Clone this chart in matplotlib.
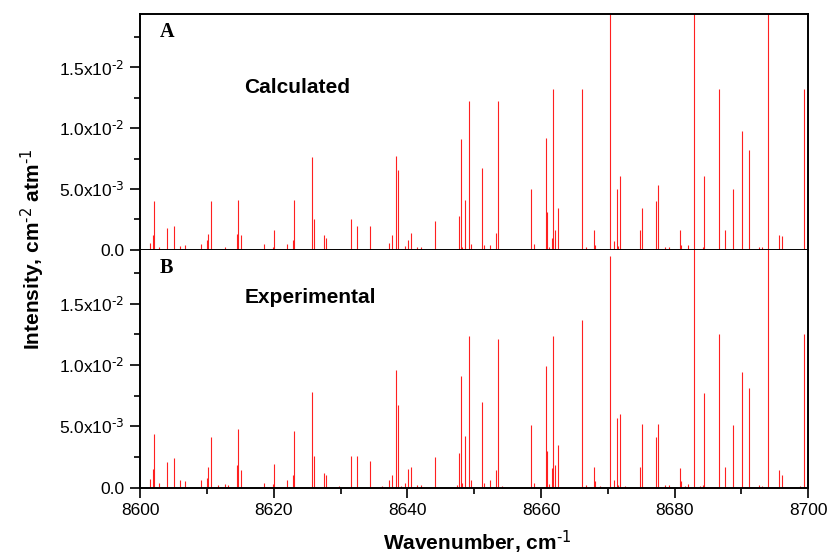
import matplotlib
matplotlib.use("Agg")
import matplotlib.pyplot as plt
from matplotlib.ticker import FixedLocator, FixedFormatter, MultipleLocator

plt.rcParams["font.family"] = ["Liberation Sans", "DejaVu Sans"]
plt.rcParams["mathtext.default"] = "regular"

# line positions (cm-1) shared by both spectra
wavenumber = [
    8601.5, 8602.0, 8602.15, 8602.9, 8604.0, 8605.1, 8605.9, 8606.7, 8609.1, 8610.0,
    8610.2, 8610.6, 8611.7, 8612.7, 8613.2, 8614.5, 8614.6, 8615.1, 8618.6, 8619.9,
    8620.0, 8622.0, 8622.9, 8623.05, 8625.8, 8626.1, 8627.5, 8627.8, 8629.7, 8631.6,
    8632.5, 8634.4, 8636.2, 8637.3, 8637.77, 8638.27, 8638.62, 8639.0, 8639.7, 8640.07,
    8640.6, 8641.4, 8642.1, 8644.16, 8647.4, 8647.7, 8648.0, 8648.15, 8648.65, 8649.25,
    8649.55, 8651.14, 8651.5, 8652.4, 8653.3, 8653.5, 8654.1, 8658.43, 8659.0, 8660.8,
    8660.87, 8661.15, 8661.7, 8661.77, 8662.1, 8662.5, 8666.2, 8666.7, 8667.87, 8668.1,
    8668.8, 8670.4, 8670.96, 8671.36, 8671.5, 8671.8, 8672.6, 8674.85, 8675.05, 8677.2,
    8677.5, 8678.6, 8679.1, 8680.79, 8680.95, 8681.6, 8682.0, 8682.94, 8683.8, 8684.2,
    8684.4, 8686.68, 8687.5, 8688.7, 8690.02, 8691.1, 8692.7, 8693.1, 8693.96, 8695.66,
    8696.06, 8698.7, 8699.3,
]

calculated = [
    0.00055, 0.0012, 0.0040, 0.0002, 0.0018, 0.0020, 0.0003, 0.0004, 0.0005, 0.0008,
    0.0013, 0.0040, 0.0001, 0.0002, 0.0001, 0.0013, 0.0041, 0.0012, 0.0005, 0.0002,
    0.0016, 0.0005, 0.0008, 0.0041, 0.0076, 0.0025, 0.0012, 0.0010, 0.0001, 0.0025,
    0.0020, 0.0020, 0.0001, 0.0006, 0.0012, 0.0077, 0.0066, 0.0001, 0.00035, 0.0008,
    0.0014, 0.0002, 0.0002, 0.0024, 0.0001, 0.0028, 0.0091, 0.0002, 0.0041, 0.0122,
    0.0005, 0.0067, 0.0004, 0.0004, 0.0014, 0.0122, 0.0001, 0.0050, 0.0005, 0.0092,
    0.0031, 0.0002, 0.0010, 0.0132, 0.0016, 0.0034, 0.0132, 0.0002, 0.0016, 0.0004,
    0.0001, 0.0250, 0.0007, 0.0050, 0.0003, 0.0061, 0.0001, 0.0016, 0.0034, 0.0040,
    0.0053, 0.0002, 0.0002, 0.0016, 0.0004, 0.0001, 0.0004, 0.0250, 0.0001, 0.0002,
    0.0061, 0.0132, 0.0016, 0.0050, 0.0098, 0.0082, 0.0002, 0.0002, 0.0250, 0.0012,
    0.0011, 0.0001, 0.0132,
]

experimental = [
    0.0007, 0.0015, 0.0044, 0.0004, 0.0021, 0.0024, 0.0006, 0.0005, 0.0006, 0.0008,
    0.0017, 0.0041, 0.0002, 0.0003, 0.0002, 0.0018, 0.0048, 0.0014, 0.0004, 0.0003,
    0.0019, 0.0006, 0.0010, 0.0046, 0.0078, 0.0026, 0.0012, 0.0010, 0.0001, 0.0026,
    0.0026, 0.0022, 0.0001, 0.0006, 0.0010, 0.0096, 0.0067, 0.0001, 0.0004, 0.0015,
    0.0017, 0.0002, 0.0002, 0.0025, 0.0002, 0.0028, 0.0091, 0.0004, 0.0042, 0.0124,
    0.0006, 0.0070, 0.0004, 0.0006, 0.0014, 0.0121, 0.0001, 0.0051, 0.0004, 0.0099,
    0.0030, 0.0003, 0.0016, 0.0124, 0.0018, 0.0035, 0.0137, 0.0002, 0.0017, 0.0005,
    0.0001, 0.0189, 0.0006, 0.0057, 0.0002, 0.0060, 0.0001, 0.0017, 0.0052, 0.0041,
    0.0052, 0.0002, 0.0002, 0.0016, 0.0005, 0.0001, 0.0003, 0.0250, 0.0001, 0.0002,
    0.0077, 0.0125, 0.0017, 0.0051, 0.0094, 0.0081, 0.0002, 0.0001, 0.0250, 0.0014,
    0.0010, 0.0001, 0.0125,
]

ytick_values = [0.0, 0.005, 0.010, 0.015]
ytick_labels = ["0.0", r"5.0x10$^{\text{-3}}$", r"1.0x10$^{\text{-2}}$", r"1.5x10$^{\text{-2}}$"]

fig = plt.figure(figsize=(8.29, 5.54), dpi=100)
ax_a = fig.add_axes([0.169, 0.549, 0.806, 0.426])
ax_b = fig.add_axes([0.169, 0.120, 0.806, 0.429])

for ax, values, tag, name, name_y in [
    (ax_a, calculated, "A", "Calculated", 0.686),
    (ax_b, experimental, "B", "Experimental", 0.80),
]:
    ax.vlines(wavenumber, 0, values, color="#ff2020", linewidth=0.8)
    ax.set_xlim(8600, 8700)
    ax.set_ylim(0, 0.0194)
    ax.yaxis.set_major_locator(FixedLocator(ytick_values))
    ax.yaxis.set_major_formatter(FixedFormatter(ytick_labels))
    ax.yaxis.set_minor_locator(MultipleLocator(0.0025))
    ax.xaxis.set_major_locator(MultipleLocator(20))
    ax.xaxis.set_minor_locator(MultipleLocator(10))
    ax.tick_params(which="major", direction="out", length=7.5, width=1.2, labelsize=12.5, pad=4)
    ax.tick_params(which="minor", direction="out", length=4.5, width=1.2)
    for spine in ax.spines.values():
        spine.set_linewidth(1.4)
    ax.text(0.030, 0.925, tag, transform=ax.transAxes, fontsize=14.5, fontweight="bold",
            family="Liberation Serif", va="center")
    ax.text(0.156, name_y, name, transform=ax.transAxes,
            fontsize=15, fontweight="bold", va="center")

ax_a.tick_params(axis="x", which="both", bottom=False, labelbottom=False)
ax_b.spines["top"].set_visible(False)

fig.text(0.575, 0.022, r"Wavenumber, cm$^{\text{-1}}$", fontsize=15, fontweight="bold",
         ha="center", va="center")
fig.text(0.039, 0.55, r"Intensity, cm$^{\text{-2}}$ atm$^{\text{-1}}$", rotation=90, fontsize=15,
         fontweight="bold", ha="center", va="center")

fig.savefig("out.png", dpi=100)
